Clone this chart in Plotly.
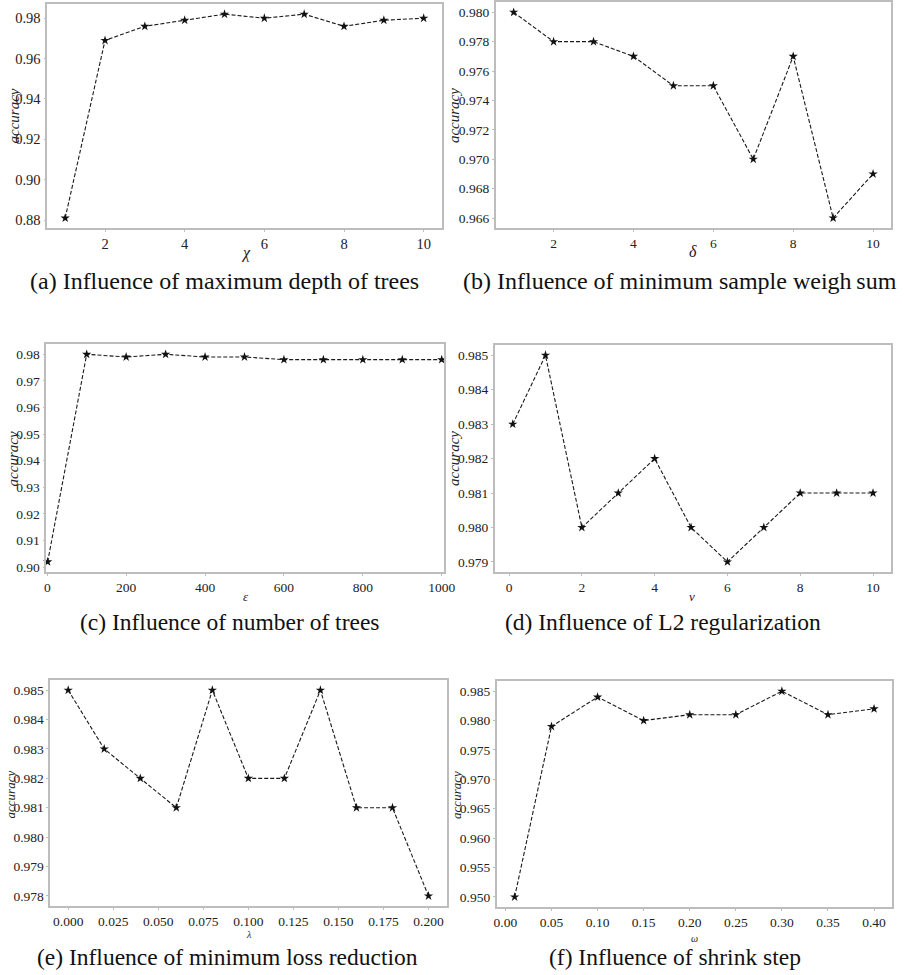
import plotly.graph_objects as go

W, H = 905, 975

# ---------------- data ----------------
chi = [1, 2, 3, 4, 5, 6, 7, 8, 9, 10]
acc_a = [0.881, 0.969, 0.976, 0.979, 0.982, 0.980, 0.982, 0.976, 0.979, 0.980]

delta = [1, 2, 3, 4, 5, 6, 7, 8, 9, 10]
acc_b = [0.980, 0.978, 0.978, 0.977, 0.975, 0.975, 0.970, 0.977, 0.966, 0.969]

eps = [1, 100, 200, 300, 400, 500, 600, 700, 800, 900, 1000]
acc_c = [0.902, 0.980, 0.979, 0.980, 0.979, 0.979, 0.978, 0.978, 0.978, 0.978, 0.978]

nu = [0.1, 1, 2, 3, 4, 5, 6, 7, 8, 9, 10]
acc_d = [0.983, 0.985, 0.980, 0.981, 0.982, 0.980, 0.979, 0.980, 0.981, 0.981, 0.981]

lam = [0.00, 0.02, 0.04, 0.06, 0.08, 0.10, 0.12, 0.14, 0.16, 0.18, 0.20]
acc_e = [0.985, 0.983, 0.982, 0.981, 0.985, 0.982, 0.982, 0.985, 0.981, 0.981, 0.978]

omega = [0.01, 0.05, 0.10, 0.15, 0.20, 0.25, 0.30, 0.35, 0.40]
acc_f = [0.950, 0.979, 0.984, 0.980, 0.981, 0.981, 0.985, 0.981, 0.982]

captions = [
    "(a) Influence of maximum depth of trees",
    "(b) Influence of minimum sample weigh\u2009sum",
    "(c) Influence of number of trees",
    "(d) Influence of L2 regularization",
    "(e) Influence of minimum loss reduction",
    "(f) Influence of shrink step",
]
x_titles = ["\u03c7", "\u03b4", "\u03b5", "\u03bd", "\u03bb", "\u03c9"]
y_title = "accuracy"

series = [(chi, acc_a), (delta, acc_b), (eps, acc_c), (nu, acc_d), (lam, acc_e), (omega, acc_f)]

# ---------------- layout specs (pixels) ----------------
panels = [
    dict(box=(45, 446, 4, 229), xr=[0.55, 10.45], xd=2, x0=0, xf="d", yr=[0.87595, 0.98705], yd=0.02, y0=0.88, yf=".2f", fs=14.5,
         cap=(225, 282, 24), xt=(247, 254, 16), yt=(11, 116, 15)),
    dict(box=(501, 903, 2, 229), xr=[0.55, 10.45], xd=2, x0=0, xf="d", yr=[0.9653, 0.9807], yd=0.002, y0=0.966, yf=".3f", fs=13.5,
         cap=(688, 282, 24), xt=(702, 252, 16), yt=(458, 116, 15)),
    dict(box=(44, 448, 345, 574), xr=[-2.5, 1004.7], xd=200, x0=0, xf="d", yr=[0.8981, 0.9839], yd=0.01, y0=0.90, yf=".2f", fs=13.5,
         cap=(230, 624, 23.5), xt=(247, 598, 13), yt=(10, 460, 15)),
    dict(box=(500, 903, 346, 574), xr=[-0.395, 10.495], xd=2, x0=0, xf="d", yr=[0.9787, 0.9853], yd=0.001, y0=0.979, yf=".3f", fs=13.5,
         cap=(671, 624, 23.5), xt=(701, 598, 13), yt=(458, 460, 15)),
    dict(box=(48, 451, 682, 909), xr=[-0.01, 0.21], xd=0.025, x0=0, xf=".3f", yr=[0.97765, 0.98535], yd=0.001, y0=0.978, yf=".3f", fs=13.5,
         cap=(228, 960, 23.5), xt=(250, 937, 10), yt=(8, 797, 13)),
    dict(box=(502, 904, 683, 910), xr=[-0.0095, 0.4195], xd=0.05, x0=0, xf=".2f", yr=[0.94825, 0.98675], yd=0.005, y0=0.95, yf=".3f", fs=13.5,
         cap=(683, 960, 23.5), xt=(703, 941, 10), yt=(461, 797, 13)),
]

SERIF = "Liberation Serif"
FRAME = "#bdbdbd"
TXT = "#222222"

fig = go.Figure()
layout = dict(
    width=W, height=H, margin=dict(l=0, r=0, t=0, b=0),
    paper_bgcolor="white", plot_bgcolor="white", showlegend=False,
    font=dict(family=SERIF, color=TXT),
)
annotations = []

for i, (p, (xs, ys)) in enumerate(zip(panels, series)):
    n = "" if i == 0 else str(i + 1)
    x0p, x1p, y0p, y1p = p["box"]
    fig.add_trace(go.Scatter(
        x=xs, y=ys, mode="lines+markers",
        line=dict(color="#1a1a1a", width=1.1, dash="4px,2px"),
        marker=dict(symbol="star", size=7, color="#111111", line=dict(width=0)),
        xaxis="x" + n, yaxis="y" + n, cliponaxis=False,
    ))
    common = dict(showline=True, mirror=True, linecolor=FRAME, linewidth=1.5, showgrid=False, zeroline=False,
                  ticks="outside", ticklen=2, tickwidth=1, tickcolor=FRAME,
                  tickfont=dict(family=SERIF, size=p["fs"], color=TXT))
    layout["xaxis" + n] = dict(common, domain=[x0p / W, x1p / W], range=p["xr"], tick0=p["x0"], dtick=p["xd"],
                               tickformat=p["xf"], anchor="y" + n)
    layout["yaxis" + n] = dict(common, domain=[1 - y1p / H, 1 - y0p / H], range=p["yr"], tick0=p["y0"], dtick=p["yd"],
                               tickformat=p["yf"], anchor="x" + n)
    cx, cy, cs = p["cap"]
    annotations.append(dict(text=captions[i], x=cx / W, y=1 - cy / H, xref="paper", yref="paper",
                            showarrow=False, xanchor="center", yanchor="middle",
                            font=dict(family=SERIF, size=cs, color="#111111")))
    tx, ty, ts = p["xt"]
    annotations.append(dict(text="<i>" + x_titles[i] + "</i>", x=tx / W, y=1 - ty / H, xref="paper", yref="paper",
                            showarrow=False, xanchor="center", yanchor="middle",
                            font=dict(family=SERIF, size=ts, color=TXT)))
    yx, yy, ys_ = p["yt"]
    annotations.append(dict(text="<i>" + y_title + "</i>", x=yx / W, y=1 - yy / H, xref="paper", yref="paper",
                            showarrow=False, xanchor="center", yanchor="middle", textangle=-90,
                            font=dict(family=SERIF, size=ys_, color=TXT)))

layout["annotations"] = annotations
fig.update_layout(**layout)
fig.write_html("out.html")
